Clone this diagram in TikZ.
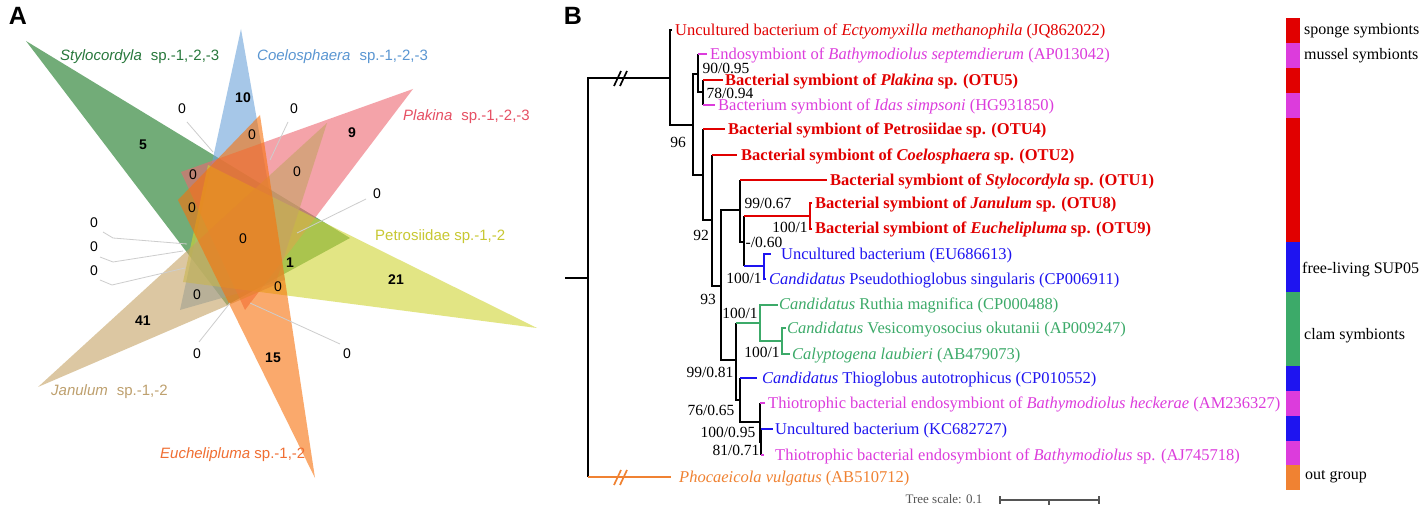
\documentclass[tikz,border=0pt]{standalone}
\usepackage{fontspec}
\setmainfont{Liberation Serif}
\newfontfamily\arialf{Liberation Sans}
\newcommand\fsz[1]{\fontsize{#1}{#1}\selectfont}
\definecolor{cRed}{RGB}{225,0,0}
\definecolor{cMag}{RGB}{220,60,220}
\definecolor{cBlue}{RGB}{30,20,240}
\definecolor{cGreen}{RGB}{60,170,105}
\definecolor{cOr}{RGB}{240,130,50}
\definecolor{vGreen}{RGB}{20,118,30}
\definecolor{vBlue}{RGB}{107,163,217}
\definecolor{vPink}{RGB}{237,102,113}
\definecolor{vYel}{RGB}{208,212,50}
\definecolor{vTan}{RGB}{197,162,100}
\definecolor{vOr}{RGB}{248,113,10}
\definecolor{tGreen}{RGB}{40,120,60}
\definecolor{tBlue}{RGB}{90,150,210}
\definecolor{tPink}{RGB}{230,80,100}
\definecolor{tYel}{RGB}{200,200,50}
\definecolor{tTan}{RGB}{190,160,110}
\definecolor{tOr}{RGB}{240,110,50}
\definecolor{lead}{RGB}{205,205,205}
\definecolor{scl}{RGB}{85,85,85}
\begin{document}
\begin{tikzpicture}[x=1pt,y=-1pt,
  leaf/.style={anchor=base west, inner sep=0pt, yshift=-5.5pt, font=\fsz{16.5}},
  bleaf/.style={leaf, font=\bfseries\fsz{16.5}},
  blab/.style={inner sep=0pt, font=\fsz{15.5}},
  br/.style={line width=1.7pt},
  slash/.style={line width=1.7pt},
  tri/.style={fill opacity=0.6, draw=none},
  setlab/.style={anchor=west, inner sep=0pt, font=\arialf\fsz{15}},
  vnum/.style={inner sep=0pt, font=\arialf\fsz{14}},
  vbold/.style={inner sep=0pt, font=\arialf\bfseries\fsz{14}},
  leadl/.style={draw=lead, line width=0.8pt},
  legtxt/.style={anchor=west, inner sep=0pt, font=\fsz{16}},
  panel/.style={inner sep=0pt, font=\arialf\bfseries\fsz{25}}]
\useasboundingbox (0,0) rectangle (1424,510);
\fill[white] (0,0) rectangle (1424,510);

% ---------------- Panel A : Venn ----------------
\node[panel] (pA) at (18,16) {A};
\fill[tri, vGreen] (26,41) -- (350,238) -- (227,305) -- cycle;
\fill[tri, vBlue] (241,29) -- (180,310) -- (285,280) -- cycle;
\fill[tri, vPink] (413,89) -- (181,172) -- (245,310) -- cycle;
\fill[tri, vYel] (537,328) -- (208,165) -- (183,282) -- cycle;
\fill[tri, vTan] (38,387) -- (327,123) -- (275,285) -- cycle;
\fill[tri, vOr] (315,478) -- (178,200) -- (260,115) -- cycle;

% set labels
\node[setlab, text=tGreen] (sSty) at (60,57) {\textit{Stylocordyla}\hspace{9pt}sp.-1,-2,-3};
\node[setlab, text=tBlue] (sCoe) at (257,57) {\textit{Coelosphaera}\hspace{9pt}sp.-1,-2,-3};
\node[setlab, text=tPink] (sPla) at (403,117) {\textit{Plakina}\hspace{9pt}sp.-1,-2,-3};
\node[setlab, text=tYel] (sPet) at (375,237) {Petrosiidae sp.-1,-2};
\node[setlab, text=tTan] (sJan) at (51,392) {\textit{Janulum}\hspace{9pt}sp.-1,-2};
\node[setlab, text=tOr] (sEuc) at (160,455) {\textit{Euchelipluma} sp.-1,-2};

% leader lines
\coordinate (l1a) at (187,122); \coordinate (l1b) at (213,152);
\coordinate (l2a) at (288,122); \coordinate (l2b) at (270,160);
\coordinate (l3a) at (366,199); \coordinate (l3b) at (297,233);
\coordinate (l4a) at (103,232); \coordinate (l4m) at (113,238); \coordinate (l4b) at (187,244);
\coordinate (l5a) at (100,257); \coordinate (l5m) at (113,262); \coordinate (l5b) at (183,251);
\coordinate (l6a) at (100,280); \coordinate (l6m) at (112,285); \coordinate (l6b) at (185,268);
\coordinate (l7a) at (199,342); \coordinate (l7b) at (230,303);
\coordinate (l8a) at (340,344); \coordinate (l8b) at (250,303);
\draw[leadl] (l1a) -- (l1b);
\draw[leadl] (l2a) -- (l2b);
\draw[leadl] (l3a) -- (l3b);
\draw[leadl] (l4a) -- (l4m) -- (l4b);
\draw[leadl] (l5a) -- (l5m) -- (l5b);
\draw[leadl] (l6a) -- (l6m) -- (l6b);
\draw[leadl] (l7a) -- (l7b);
\draw[leadl] (l8a) -- (l8b);

% numbers
\node[vbold] (n5) at (143,145) {5};
\node[vbold] (n10) at (243,98) {10};
\node[vbold] (n9) at (352,133) {9};
\node[vbold] (n1) at (290,263) {1};
\node[vbold] (n21) at (396,280) {21};
\node[vbold] (n41) at (143,321) {41};
\node[vbold] (n15) at (273,358) {15};
\node[vnum] (z1) at (182,109) {0};
\node[vnum] (z2) at (294,109) {0};
\node[vnum] (z3) at (377,194) {0};
\node[vnum] (z4) at (94,223) {0};
\node[vnum] (z5) at (94,247) {0};
\node[vnum] (z6) at (94,271) {0};
\node[vnum] (z7) at (197,354) {0};
\node[vnum] (z8) at (347,354) {0};
\node[vnum] (z9) at (252,135) {0};
\node[vnum] (z10) at (297,172) {0};
\node[vnum] (z11) at (193,175) {0};
\node[vnum] (z12) at (192,208) {0};
\node[vnum] (z13) at (243,239) {0};
\node[vnum] (z14) at (278,287) {0};
\node[vnum] (z15) at (197,295) {0};

% ---------------- Panel B : tree ----------------
\node[panel] (pB) at (573,16) {B};

% internal nodes
\coordinate (R0) at (565,278);
\coordinate (R) at (588,278);
\coordinate (U) at (670,78);
\coordinate (N1) at (693,125);
\coordinate (N2) at (698,74);
\coordinate (N4) at (703,92);
\coordinate (N3) at (703,175);
\coordinate (N5) at (712,220);
\coordinate (N6) at (721,286);
\coordinate (N7) at (740,210);
\coordinate (N8) at (744,242);
\coordinate (N9) at (810,216);
\coordinate (N8b) at (764,266);
\coordinate (N10) at (736,360);
\coordinate (N11) at (760,323);
\coordinate (N11b) at (782,341);
\coordinate (N12) at (740,400);
\coordinate (N13) at (760,422);
\coordinate (N14) at (761,442);
% leaf tips
\coordinate (tE) at (672,30);
\coordinate (tSep) at (707,54);
\coordinate (tPla) at (723,80);
\coordinate (tIda) at (715,105);
\coordinate (tPet) at (725,129);
\coordinate (tCoe) at (737,155);
\coordinate (tSty) at (827,180);
\coordinate (tO8) at (812,203);
\coordinate (tO9) at (812,229);
\coordinate (tEU) at (771,254);
\coordinate (tCP6) at (766,279);
\coordinate (tRut) at (778,305);
\coordinate (tVes) at (786,328);
\coordinate (tCal) at (790,354);
\coordinate (tThi) at (757,378);
\coordinate (tHec) at (765,403);
\coordinate (tKC) at (773,429);
\coordinate (tAJ) at (764,455);
\coordinate (OG) at (671,477);

\draw[br] (R0) -- (R);
\draw[br] (R) |- (U);
\draw[br] (R) -- (R |- OG);
\draw[br, cOr] (R |- OG) -- (OG);
\draw[slash] (614,86) -- (621,71);
\draw[slash] (620,86) -- (627,71);
\draw[slash, cOr] (614,485) -- (621,470);
\draw[slash, cOr] (620,485) -- (627,470);

\draw[br] (U) |- (tE);
\draw[br] (U) |- (N1);
\draw[br] (N1) |- (N2);
\draw[br] (N1) |- (N3);
\draw[br] (N2) -- (N2 |- tSep);
\draw[br, cMag] (N2 |- tSep) -- (tSep);
\draw[br] (N2) |- (N4);
\draw[br] (N4) -- (N4 |- tPla);
\draw[br] (N4) -- (N4 |- tIda);
\draw[br, cRed] (N4 |- tPla) -- (tPla);
\draw[br, cMag] (N4 |- tIda) -- (tIda);
\draw[br] (N3) -- (N3 |- tPet);
\draw[br, cRed] (N3 |- tPet) -- (tPet);
\draw[br] (N3) |- (N5);
\draw[br] (N5) -- (N5 |- tCoe);
\draw[br, cRed] (N5 |- tCoe) -- (tCoe);
\draw[br] (N5) |- (N6);
\draw[br] (N6) |- (N7);
\draw[br] (N6) |- (N10);
\draw[br] (N7) -- (N7 |- tSty);
\draw[br, cRed] (N7 |- tSty) -- (tSty);
\draw[br] (N7) |- (N8);
\draw[br] (N8) -- (N8 |- N9);
\draw[br, cRed] (N8 |- N9) -- (N9);
\draw[br] (N8) -- (N8 |- N8b);
\draw[br, cBlue] (N8 |- N8b) -- (N8b);
\draw[br, cRed] (N9) |- (tO8);
\draw[br, cRed] (N9) |- (tO9);
\draw[br, cBlue] (N8b) |- (tEU);
\draw[br, cBlue] (N8b) |- (tCP6);
\draw[br] (N10) -- (N10 |- N11);
\draw[br, cGreen] (N10 |- N11) -- (N11);
\draw[br] (N10) |- (N12);
\draw[br, cGreen] (N11) |- (tRut);
\draw[br, cGreen] (N11) |- (N11b);
\draw[br, cGreen] (N11b) |- (tVes);
\draw[br, cGreen] (N11b) |- (tCal);
\draw[br] (N12) -- (N12 |- tThi);
\draw[br, cBlue] (N12 |- tThi) -- (tThi);
\draw[br] (N12) |- (N13);
\draw[br] (N13) -- (N13 |- tHec);
\draw[br, cMag] (N13 |- tHec) -- (tHec);
\draw[br] (N13) |- (N14);
\draw[br] (N14) -- (N14 |- tKC);
\draw[br, cBlue] (N14 |- tKC) -- (tKC);
\draw[br] (N14) -- (N14 |- tAJ);
\draw[br, cMag] (N14 |- tAJ) -- (tAJ);

% leaf labels
\node[leaf, text=cRed] (LE) at (675,30) {Uncultured bacterium of \textit{Ectyomyxilla methanophila} (JQ862022)};
\node[leaf, text=cMag] (LSep) at (710,54) {Endosymbiont of \textit{Bathymodiolus septemdierum} (AP013042)};
\node[bleaf, text=cRed] (LPla) at (725,80) {Bacterial symbiont of \textit{Plakina} sp. (OTU5)};
\node[leaf, text=cMag] (LIda) at (718,105) {Bacterium symbiont of \textit{Idas simpsoni} (HG931850)};
\node[bleaf, text=cRed] (LPet) at (728,129) {Bacterial symbiont of Petrosiidae sp. (OTU4)};
\node[bleaf, text=cRed] (LCoe) at (741,155) {Bacterial symbiont of \textit{Coelosphaera} sp. (OTU2)};
\node[bleaf, text=cRed] (LSty) at (830,180) {Bacterial symbiont of \textit{Stylocordyla} sp. (OTU1)};
\node[bleaf, text=cRed] (LO8) at (815,203) {Bacterial symbiont of \textit{Janulum} sp. (OTU8)};
\node[bleaf, text=cRed] (LO9) at (815,228) {Bacterial symbiont of \textit{Euchelipluma} sp. (OTU9)};
\node[leaf, text=cBlue] (LEU) at (781,254) {Uncultured bacterium (EU686613)};
\node[leaf, text=cBlue] (LCP6) at (769,279) {\textit{Candidatus} Pseudothioglobus singularis (CP006911)};
\node[leaf, text=cGreen] (LRut) at (779,304) {\textit{Candidatus} Ruthia magnifica (CP000488)};
\node[leaf, text=cGreen] (LVes) at (787,328) {\textit{Candidatus} Vesicomyosocius okutanii (AP009247)};
\node[leaf, text=cGreen] (LCal) at (792,354) {\textit{Calyptogena laubieri} (AB479073)};
\node[leaf, text=cBlue] (LThi) at (762,378) {\textit{Candidatus} Thioglobus autotrophicus (CP010552)};
\node[leaf, text=cMag] (LHec) at (768,403) {Thiotrophic bacterial endosymbiont of \textit{Bathymodiolus heckerae} (AM236327)};
\node[leaf, text=cBlue] (LKC) at (775,429) {Uncultured bacterium (KC682727)};
\node[leaf, text=cMag] (LAJ) at (775,455) {Thiotrophic bacterial endosymbiont of \textit{Bathymodiolus} sp. (AJ745718)};
\node[leaf, text=cOr] (LOG) at (679,477) {\textit{Phocaeicola vulgatus} (AB510712)};

% support values
\node[blab] (b1) at (726,68) {90/0.95};
\node[blab] (b2) at (730,93) {78/0.94};
\node[blab] (b3) at (678,142) {96};
\node[blab] (b4) at (701,235) {92};
\node[blab] (b5) at (708,299) {93};
\node[blab] (b6) at (768,203) {99/0.67};
\node[blab] (b7) at (790,227) {100/1};
\node[blab] (b8) at (764,242) {-/0.60};
\node[blab] (b9) at (744,278) {100/1};
\node[blab] (b10) at (740,313) {100/1};
\node[blab] (b11) at (762,352) {100/1};
\node[blab] (b12) at (710,372) {99/0.81};
\node[blab] (b13) at (711,410) {76/0.65};
\node[blab] (b14) at (728,432) {100/0.95};
\node[blab] (b15) at (736,450) {81/0.71};

% tree scale
\node[inner sep=0pt, font=\fsz{13}, text=scl] (ts) at (944,499) {Tree scale: 0.1};
\coordinate (s0) at (1000,500); \coordinate (s1) at (1049,500); \coordinate (s2) at (1099,500);
\draw[scl, line width=1.5pt] (s0) -- (s2);
\draw[scl, line width=1.2pt] ([yshift=4pt]s0) -- ([yshift=-4pt]s0);
\draw[scl, line width=1.2pt] ([yshift=4pt]s2) -- ([yshift=-4pt]s2);
\draw[scl, line width=1.2pt] (s1) -- ([yshift=-5pt]s1);

% legend colour strip
\fill[cRed] (1286,18) rectangle (1300,43);
\fill[cMag] (1286,43) rectangle (1300,68);
\fill[cRed] (1286,68) rectangle (1300,93);
\fill[cMag] (1286,93) rectangle (1300,118);
\fill[cRed] (1286,118) rectangle (1300,242);
\fill[cBlue] (1286,242) rectangle (1300,292);
\fill[cGreen] (1286,292) rectangle (1300,366);
\fill[cBlue] (1286,366) rectangle (1300,391);
\fill[cMag] (1286,391) rectangle (1300,416);
\fill[cBlue] (1286,416) rectangle (1300,441);
\fill[cMag] (1286,441) rectangle (1300,465);
\fill[cOr] (1286,465) rectangle (1300,490);
\node[legtxt] (g1) at (1304,31) {sponge symbionts};
\node[legtxt] (g2) at (1304,56) {mussel symbionts};
\node[legtxt] (g3) at (1302,270) {free-living SUP05};
\node[legtxt] (g4) at (1304,336) {clam symbionts};
\node[legtxt] (g5) at (1305,477) {out group};
\end{tikzpicture}
\end{document}
